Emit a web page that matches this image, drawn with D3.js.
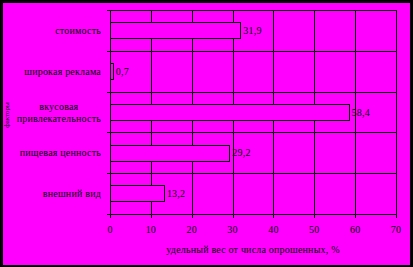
<!DOCTYPE html>
<html><head><meta charset="utf-8">
<script src="https://cdn.jsdelivr.net/npm/d3@7"></script>
<style>
html,body{margin:0;padding:0;background:#000;}
svg{display:block;}
text{font-family:"Liberation Serif","Times New Roman",serif;font-size:10px;fill:#000;letter-spacing:0.2px;}
</style></head>
<body>
<script>
const categories = ["стоимость", "широкая реклама", "вкусовая\nпривлекательность", "пищевая ценность", "внешний вид"];
const values = [31.9, 0.7, 58.4, 29.2, 13.2];
const valueLabels = ["31,9", "0,7", "58,4", "29,2", "13,2"];
const xTicks = [0, 10, 20, 30, 40, 50, 60, 70];
const xTitle = "удельный вес от числа опрошенных, %";
const yTitle = "факторы";

const W = 413, H = 267;
const svg = d3.select("body").append("svg").attr("width", W).attr("height", H);
// frame
svg.append("rect").attr("x", 0).attr("y", 0).attr("width", W).attr("height", H).attr("fill", "#000");
svg.append("rect").attr("x", 3).attr("y", 3).attr("width", 407).attr("height", 262).attr("fill", "#FF00FF");

const L = 110, R = 396, T = 10, B = 214;
const x = d3.scaleLinear().domain([0, 70]).range([L, R]);
const y = d3.scaleBand().domain(categories).range([T, B]).paddingInner(0.6).paddingOuter(0.3);
const step = y.step();
const g = svg.append("g");

// vertical gridlines
g.selectAll("line.vg").data(xTicks).enter().append("line")
  .attr("x1", d => Math.round(x(d)) + 0.5).attr("x2", d => Math.round(x(d)) + 0.5)
  .attr("y1", T + 0.5).attr("y2", B + 0.5).attr("stroke", "#000").attr("stroke-width", 1);
// horizontal gridlines at category boundaries
const bounds = d3.range(categories.length + 1).map(i => T + i * step);
g.selectAll("line.hg").data(bounds).enter().append("line")
  .attr("x1", L - 3).attr("x2", R + 0.5)
  .attr("y1", d => Math.round(d) + 0.5).attr("y2", d => Math.round(d) + 0.5)
  .attr("stroke", "#000").attr("stroke-width", 1);
// x ticks
g.selectAll("line.xt").data(xTicks).enter().append("line")
  .attr("x1", d => Math.round(x(d)) + 0.5).attr("x2", d => Math.round(x(d)) + 0.5)
  .attr("y1", B).attr("y2", B + 4).attr("stroke", "#000");
// plot border
g.append("rect").attr("x", L + 0.5).attr("y", T + 0.5).attr("width", R - L).attr("height", B - T)
  .attr("fill", "none").attr("stroke", "#000");

// bars
g.selectAll("rect.bar").data(categories).enter().append("rect")
  .attr("x", L + 0.5)
  .attr("y", d => Math.round(y(d)) + 0.5)
  .attr("width", (d, i) => Math.max(1, Math.round(x(values[i]) - L)))
  .attr("height", Math.round(y.bandwidth()))
  .attr("fill", "#FF00FF").attr("stroke", "#000");

// value labels
g.selectAll("text.val").data(categories).enter().append("text")
  .attr("x", (d, i) => x(values[i]) + 3)
  .attr("y", d => y(d) + y.bandwidth() / 2 + 3.5)
  .text((d, i) => valueLabels[i]);

// category labels
categories.forEach(c => {
  const lines = c.split("\n");
  const cy = y(c) + y.bandwidth() / 2;
  const t = g.append("text").attr("text-anchor", "middle");
  lines.forEach((ln, k) => {
    t.append("tspan").attr("y", cy + 3.5 + (k - (lines.length - 1) / 2) * 12).text(ln);
  });
  let maxW = 0;
  t.selectAll("tspan").each(function(){ maxW = Math.max(maxW, this.getComputedTextLength()); });
  t.selectAll("tspan").attr("x", 101 - maxW / 2);
});

// x tick labels
g.selectAll("text.xl").data(xTicks).enter().append("text")
  .attr("x", d => x(d)).attr("y", 233).attr("text-anchor", "middle").text(d => d);

// titles
svg.append("text").attr("x", (L + R) / 2).attr("y", 253).attr("text-anchor", "middle").text(xTitle);
svg.append("text").attr("transform", `translate(9,115) rotate(-90)`)
  .attr("text-anchor", "middle").style("font-size", "7px").style("letter-spacing", "0px").text(yTitle);
</script>
</body></html>
